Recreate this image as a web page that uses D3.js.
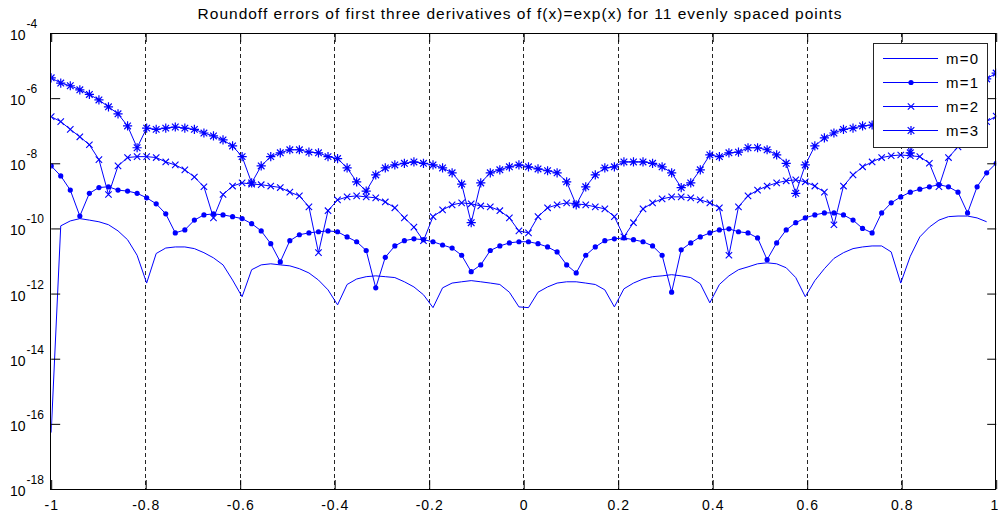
<!DOCTYPE html>
<html>
<head>
<meta charset="utf-8">
<script src="https://cdn.jsdelivr.net/npm/d3@7/dist/d3.min.js"></script>
<style>
  body { margin: 0; background: #fff; }
  text { font-family: "Liberation Sans", Arial, sans-serif; fill: #000; }
</style>
</head>
<body>
<svg id="chart" width="998" height="514"></svg>
<script>
// roundoff error of the m-th derivative, sampled at 100 evenly spaced x in [-1, 1]
const m0 = [
  5.4e-17, 1.2e-10, 1.7e-10, 2.0e-10, 1.8e-10, 1.6e-10, 1.3e-10, 8.4e-11, 4.5e-11, 1.5e-11,
  2.1e-12, 1.7e-11, 2.5e-11, 2.7e-11, 2.7e-11, 2.4e-11, 1.8e-11, 1.25e-11, 7.6e-12, 2.6e-12,
  8.0e-13, 5.4e-12, 7.6e-12, 8.2e-12, 7.6e-12, 7.1e-12, 5.8e-12, 4.3e-12, 2.6e-12, 1.3e-12,
  4.5e-13, 1.9e-12, 2.8e-12, 3.3e-12, 3.5e-12, 3.3e-12, 3.1e-12, 2.3e-12, 1.6e-12, 9.2e-13,
  3.7e-13, 1.5e-12, 2.1e-12, 2.3e-12, 2.5e-12, 2.3e-12, 2.1e-12, 1.9e-12, 1.1e-12, 3.9e-13,
  3.7e-13, 1.1e-12, 1.6e-12, 2.1e-12, 2.3e-12, 2.3e-12, 2.1e-12, 1.9e-12, 1.3e-12, 3.9e-13,
  1.4e-12, 2.1e-12, 2.8e-12, 3.3e-12, 3.5e-12, 3.8e-12, 3.5e-12, 3.1e-12, 2.0e-12, 5.2e-13,
  1.9e-12, 3.5e-12, 5.4e-12, 6.6e-12, 8.2e-12, 8.8e-12, 8.2e-12, 6.2e-12, 3.1e-12, 8.0e-13,
  2.5e-12, 5.8e-12, 1.2e-11, 1.8e-11, 2.4e-11, 2.7e-11, 2.9e-11, 2.9e-11, 1.9e-11, 2.1e-12,
  1.4e-11, 5.5e-11, 1.1e-10, 1.8e-10, 2.3e-10, 2.4e-10, 2.4e-10, 2.1e-10, 1.6e-10, 0
]

const m1 = [
  8.3e-9, 4.1e-9, 1.5e-9, 2.4e-10, 1.2e-9, 1.8e-9, 1.9e-9, 1.5e-9, 1.4e-9, 1.2e-9,
  8.7e-10, 5.7e-10, 2.8e-10, 7.3e-11, 9.0e-11, 1.8e-10, 2.6e-10, 2.8e-10, 2.6e-10, 2.3e-10,
  2.0e-10, 1.4e-10, 8.4e-11, 3.4e-11, 9.4e-12, 4.2e-11, 6.4e-11, 7.3e-11, 7.9e-11, 8.4e-11,
  7.9e-11, 5.5e-11, 3.9e-11, 2.1e-11, 1.5e-12, 1.3e-11, 2.9e-11, 4.2e-11, 4.8e-11, 4.5e-11,
  3.9e-11, 3.1e-11, 2.5e-11, 1.5e-11, 4.7e-12, 7.6e-12, 2.1e-11, 2.9e-11, 3.6e-11, 3.9e-11,
  3.9e-11, 3.4e-11, 2.7e-11, 1.9e-11, 7.6e-12, 4.3e-12, 1.5e-11, 2.7e-11, 4.2e-11, 4.8e-11,
  5.1e-11, 4.5e-11, 3.9e-11, 2.9e-11, 1.5e-11, 1.1e-12, 2.2e-11, 3.6e-11, 5.5e-11, 7.3e-11,
  9.0e-11, 9.7e-11, 7.9e-11, 7.3e-11, 5.1e-11, 1.1e-11, 3.6e-11, 9.0e-11, 1.5e-10, 2.1e-10,
  2.6e-10, 3.0e-10, 3.0e-10, 2.6e-10, 1.8e-10, 1.0e-10, 7.3e-11, 3.0e-10, 6.1e-10, 9.3e-10,
  1.3e-9, 1.6e-9, 1.9e-9, 2.2e-9, 1.9e-9, 1.3e-9, 3.0e-10, 1.9e-9, 5.1e-9, 1.0e-8
]

const m2 = [
  2.7e-7, 1.9e-7, 1.1e-7, 6.5e-8, 3.7e-8, 1.3e-8, 1.1e-9, 8.3e-9, 1.5e-8, 1.6e-8,
  1.6e-8, 1.5e-8, 1.1e-8, 8.9e-9, 6.3e-9, 3.8e-9, 1.9e-9, 2.1e-10, 1.1e-9, 2.0e-9,
  2.5e-9, 2.3e-9, 2.2e-9, 2.0e-9, 1.8e-9, 1.3e-9, 1.0e-9, 4.6e-10, 1.8e-11, 3.5e-10,
  7.5e-10, 9.3e-10, 1.0e-9, 9.3e-10, 8.7e-10, 6.5e-10, 4.3e-10, 2.1e-10, 1.1e-10, 4.2e-11,
  2.3e-10, 3.7e-10, 5.3e-10, 6.1e-10, 5.7e-10, 4.9e-10, 4.6e-10, 3.5e-10, 2.1e-10, 8.4e-11,
  7.3e-11, 2.3e-10, 4.3e-10, 5.3e-10, 6.1e-10, 5.7e-10, 5.3e-10, 4.6e-10, 4.0e-10, 2.3e-10,
  5.5e-11, 1.5e-10, 4.0e-10, 6.1e-10, 8.1e-10, 9.3e-10, 9.3e-10, 8.7e-10, 7.5e-10, 6.1e-10,
  4.3e-10, 1.5e-11, 4.6e-10, 1.0e-9, 1.5e-9, 2.0e-9, 2.5e-9, 2.9e-9, 3.1e-9, 2.7e-9,
  2.0e-9, 1.3e-9, 1.3e-10, 2.0e-9, 4.4e-9, 7.8e-9, 1.1e-8, 1.5e-8, 1.7e-8, 1.8e-8,
  1.7e-8, 1.6e-8, 1.0e-8, 1.9e-9, 1.5e-8, 3.2e-8, 6.5e-8, 1.1e-7, 1.9e-7, 2.8e-7
]

const m3 = [
  4.2e-6, 2.9e-6, 2.4e-6, 1.8e-6, 1.3e-6, 8.8e-7, 5.4e-7, 3.3e-7, 1.4e-7, 3.0e-8,
  1.2e-7, 1.1e-7, 1.2e-7, 1.3e-7, 1.2e-7, 1.1e-7, 8.5e-8, 6.9e-8, 5.2e-8, 3.4e-8,
  1.6e-8, 2.5e-9, 8.3e-9, 1.6e-8, 2.1e-8, 2.6e-8, 2.6e-8, 2.2e-8, 2.1e-8, 1.6e-8,
  1.4e-8, 7.2e-9, 2.7e-9, 1.4e-9, 4.4e-9, 7.2e-9, 8.9e-9, 1.0e-8, 1.1e-8, 1.0e-8,
  8.9e-9, 7.2e-9, 5.1e-9, 2.3e-9, 1.5e-10, 2.5e-9, 5.1e-9, 6.3e-9, 7.8e-9, 8.9e-9,
  7.8e-9, 6.7e-9, 5.9e-9, 5.1e-9, 2.7e-9, 5.3e-10, 1.9e-9, 4.4e-9, 7.2e-9, 7.8e-9,
  1.1e-8, 1.1e-8, 1.1e-8, 1.0e-8, 7.8e-9, 5.1e-9, 1.8e-9, 2.5e-9, 6.3e-9, 1.8e-8,
  1.6e-8, 2.1e-8, 2.2e-8, 3.0e-8, 3.0e-8, 2.6e-8, 1.8e-8, 1.0e-8, 1.2e-9, 8.9e-9,
  3.4e-8, 6.0e-8, 8.5e-8, 1.1e-7, 1.2e-7, 1.4e-7, 1.5e-7, 1.5e-7, 1.4e-7, 1.2e-7,
  2.1e-8, 1.4e-7, 3.3e-7, 5.4e-7, 8.8e-7, 1.3e-6, 2.1e-6, 2.7e-6, 3.9e-6, 5.9e-6
]

const xTicks = [-1, -0.8, -0.6, -0.4, -0.2, 0, 0.2, 0.4, 0.6, 0.8, 1]
const xTickLabels = ["-1", "-0.8", "-0.6", "-0.4", "-0.2", "0", "0.2", "0.4", "0.6", "0.8", "1"]
const yTickExps = [-4, -6, -8, -10, -12, -14, -16, -18]
const legendLabels = ["m=0", "m=1", "m=2", "m=3"]
const titleText = "Roundoff errors of first three derivatives of f(x)=exp(x) for 11 evenly spaced points"

// sample points: linspace(-1, 1, 100)
const xs = d3.range(m0.length).map(i => -1 + 2 * i / (m0.length - 1))

const blue = "#0000ff"
const plotL = 51.2, plotR = 996.2, plotT = 33, plotB = 489

const svg = d3.select("#chart")

const x = d3.scaleLinear().domain([-1, 1]).range([plotL, plotR])
const y = d3.scaleLog().domain([1e-18, 1e-4]).range([plotB, plotT])

svg.append("defs").append("clipPath").attr("id", "plot-clip")
  .append("rect")
  .attr("x", plotL).attr("y", plotT)
  .attr("width", plotR - plotL).attr("height", plotB - plotT)

// dashed vertical grid
svg.append("g")
  .selectAll("line")
  .data(xTicks.slice(1, -1))
  .join("line")
  .attr("x1", d => Math.floor(x(d)) + 0.5)
  .attr("x2", d => Math.floor(x(d)) + 0.5)
  .attr("y1", plotT)
  .attr("y2", plotB)
  .attr("stroke", "#262626")
  .attr("stroke-dasharray", "4,3")

// series
const series = [
  { vals: m0, marker: "none" },
  { vals: m1, marker: "dot" },
  { vals: m2, marker: "x" },
  { vals: m3, marker: "star" }
]

const xPath = s => `M${-s},${-s}L${s},${s}M${-s},${s}L${s},${-s}`
const starPath = s => {
  const d = s * 0.72
  return `M${-s},0L${s},0M0,${-s}L0,${s}M${-d},${-d}L${d},${d}M${-d},${d}L${d},${-d}`
}

const drawMarker = (sel, type) => {
  if (type === "dot") {
    sel.append("circle").attr("r", 2.6).attr("fill", blue)
  } else if (type === "x") {
    sel.append("path").attr("d", xPath(3.2)).attr("stroke", blue).attr("stroke-width", 1.1).attr("fill", "none")
  } else if (type === "star") {
    sel.append("path").attr("d", starPath(4.6)).attr("stroke", blue).attr("stroke-width", 1.2).attr("fill", "none")
  }
}

const line = d3.line()
  .defined(d => d.v > 0)
  .x(d => x(d.x))
  .y(d => y(d.v))

const plot = svg.append("g").attr("clip-path", "url(#plot-clip)")

series.forEach(s => {
  const pts = s.vals.map((v, i) => ({ x: xs[i], v: v }))

  plot.append("path")
    .datum(pts)
    .attr("d", line)
    .attr("fill", "none")
    .attr("stroke", blue)
    .attr("stroke-width", 1)

  if (s.marker !== "none") {
    plot.append("g")
      .selectAll("g")
      .data(pts.filter(d => d.v > 0))
      .join("g")
      .attr("transform", d => `translate(${x(d.x)},${y(d.v)})`)
      .each(function () { drawMarker(d3.select(this), s.marker) })
  }
})

// axes, ticks pointing inward
const yTickVals = yTickExps.map(e => Math.pow(10, e))

svg.append("g")
  .attr("transform", `translate(0,${plotB})`)
  .call(d3.axisBottom(x).tickValues(xTicks).tickFormat((d, i) => xTickLabels[i]).tickSize(-9).tickPadding(11))
  .call(g => g.select(".domain").remove())
  .call(g => g.selectAll("text").attr("font-size", 14).attr("letter-spacing", 1).attr("font-family", null).attr("fill", "#000"))
  // the last label sits at the window edge: keep it inside
  .call(g => g.selectAll("text").filter(d => d === 1).attr("text-anchor", "end").attr("letter-spacing", 0).attr("x", 1.5))

svg.append("g")
  .attr("transform", `translate(0,${plotT})`)
  .call(d3.axisTop(x).tickValues(xTicks).tickFormat("").tickSize(-9))
  .call(g => g.select(".domain").remove())

svg.append("g")
  .attr("transform", `translate(${plotL},0)`)
  .call(d3.axisLeft(y).tickValues(yTickVals).tickFormat("").tickSize(-9))
  .call(g => g.select(".domain").remove())

svg.append("g")
  .attr("transform", `translate(${plotR},0)`)
  .call(d3.axisRight(y).tickValues(yTickVals).tickFormat("").tickSize(-9))
  .call(g => g.select(".domain").remove())

svg.selectAll(".tick line").attr("stroke", "#000")

// y labels as 10 with superscript exponent
const yLab = svg.append("g")
  .selectAll("text")
  .data(yTickExps)
  .join("text")
  .attr("x", 10)
  .attr("y", d => y(Math.pow(10, d)) + 7)
  .attr("font-size", 14)

yLab.append("tspan").text("10")
yLab.append("tspan")
  .attr("dx", 1)
  .attr("dy", -12)
  .attr("font-size", 12)
  .text(d => d)

// frame
svg.append("rect")
  .attr("x", 50.5).attr("y", 33.5)
  .attr("width", 945).attr("height", 456)
  .attr("fill", "none")
  .attr("stroke", "#000")

// title
svg.append("text")
  .attr("x", 520)
  .attr("y", 19)
  .attr("text-anchor", "middle")
  .attr("font-size", 15.5)
  .attr("letter-spacing", 1)
  .attr("fill", "#222")
  .text(titleText)

// legend
const lg = svg.append("g")
lg.append("rect")
  .attr("x", 873.5).attr("y", 43.5)
  .attr("width", 114).attr("height", 104)
  .attr("fill", "#fff")
  .attr("stroke", "#262626")

const rows = lg.selectAll("g.row")
  .data(legendLabels)
  .join("g")
  .attr("class", "row")
  .attr("transform", (d, i) => `translate(0,${58.5 + i * 24})`)

rows.append("line")
  .attr("x1", 883).attr("x2", 938)
  .attr("stroke", blue)

rows.each(function (d, i) {
  const g = d3.select(this).append("g").attr("transform", "translate(911,0)")
  drawMarker(g, series[i].marker)
})

rows.append("text")
  .attr("x", 946)
  .attr("y", 5)
  .attr("font-size", 15)
  .attr("letter-spacing", 1.3)
  .text(d => d)
</script>
</body>
</html>
